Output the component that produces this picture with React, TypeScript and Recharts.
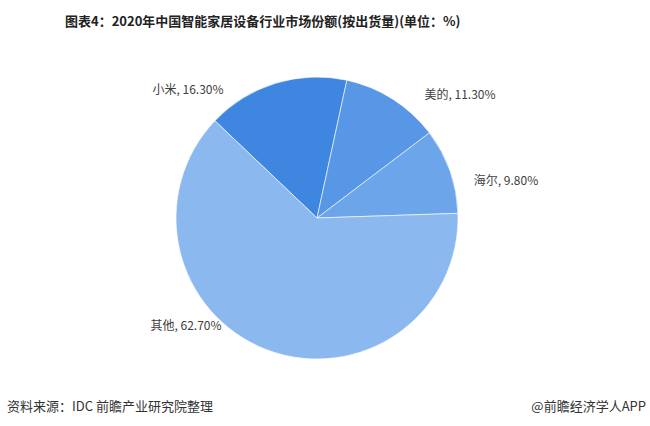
import { PieChart, Pie, Cell } from "recharts";

// 2020年中国智能家居设备行业市场份额（按出货量）
const brands = ["小米", "美的", "海尔", "其他"];
const shares = [16.3, 11.3, 9.8, 62.7];
const colors = ["#3f86e0", "#5896e6", "#6da5eb", "#8cb8f0"];

const data = brands.map((name, i) => ({ name, value: shares[i] }));

// label nudges relative to pie centre (the original uses "best fit" placement)
const labelOffset: Record<string, [number, number]> = {
  小米: [-129, -130],
  美的: [143, -125],
  海尔: [189, -39],
  其他: [-131, 106],
};

const FONT = '"Noto Sans CJK SC", "Noto Sans", sans-serif';

const renderLabel = (p: any) => {
  const [dx, dy] = labelOffset[p.name] || [0, 0];
  return (
    <text
      x={p.cx + dx}
      y={p.cy + dy}
      textAnchor="middle"
      dominantBaseline="central"
      fontSize={12}
      fill="#404040"
      fontFamily={FONT}
    >
      {`${p.name}, ${p.value.toFixed(2)}%`}
    </text>
  );
};

export default function App() {
  return (
    <div style={{ position: "absolute", left: 0, top: 0, width: 650, height: 426, background: "#fff", fontFamily: FONT }}>
      <div style={{ position: "absolute", left: 65, top: 11, fontSize: 13, fontWeight: 700, color: "#222", whiteSpace: "nowrap" }}>
        图表4：2020年中国智能家居设备行业市场份额(按出货量)(单位：%)
      </div>
      <PieChart width={650} height={426}>
        <Pie
          data={data}
          dataKey="value"
          nameKey="name"
          cx={312}
          cy={213}
          outerRadius={141}
          startAngle={136.4}
          endAngle={-223.6}
          stroke="#ffffff"
          strokeWidth={0.6}
          label={renderLabel}
          labelLine={false}
          isAnimationActive={false}
        >
          {data.map((d, i) => (
            <Cell key={d.name} fill={colors[i]} />
          ))}
        </Pie>
      </PieChart>
      <div style={{ position: "absolute", left: 7, top: 396, fontSize: 13, color: "#333", whiteSpace: "nowrap" }}>
        资料来源：IDC 前瞻产业研究院整理
      </div>
      <div style={{ position: "absolute", right: 4, top: 396, fontSize: 13, color: "#333", whiteSpace: "nowrap" }}>
        @前瞻经济学人APP
      </div>
    </div>
  );
}
